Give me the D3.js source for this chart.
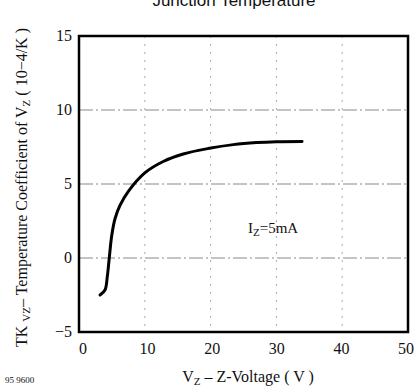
<!DOCTYPE html>
<html>
<head>
<meta charset="utf-8">
<script src="https://cdn.jsdelivr.net/npm/d3@7"></script>
<style>
  body { margin: 0; background: #fff; }
  svg text { font-family: "Liberation Serif", "Times New Roman", serif; fill: #111; }
</style>
</head>
<body>
<div id="chart"></div>
<script>
var w = 418;
var h = 388;

// Z-voltage (V) and temperature coefficient (10^-4/K)
var vz = [3.2, 3.95, 4.3, 4.6, 4.97, 5.47, 6.23, 7.5, 10.0, 12.8, 15.85, 19.8, 23.45, 27.0, 30.0, 33.9];
var tk = [-2.5, -2.16, -1.26, 0, 1.5, 2.65, 3.55, 4.5, 5.75, 6.52, 7.03, 7.41, 7.66, 7.8, 7.86, 7.88];

var xTicks = [0, 10, 20, 30, 40, 50];
var yTicks = [-5, 0, 5, 10, 15];
var xGrid = [10, 20, 30, 40];
var yGrid = [0, 5, 10];

var dataset = vz.map(function (v, i) { return { v: v, tk: tk[i] }; });

var svg = d3.select("#chart").append("svg").attr("width", w).attr("height", h);

var xScale = d3.scaleLinear().domain([0, 50]).range([79, 408]);
var yScale = d3.scaleLinear().domain([-5, 15]).range([332, 36]);

// grid
svg.selectAll(".hgrid").data(yGrid).enter().append("line")
    .attr("x1", xScale(0)).attr("x2", xScale(50))
    .attr("y1", function (d) { return yScale(d); })
    .attr("y2", function (d) { return yScale(d); })
    .attr("stroke", "#888").attr("stroke-width", 1)
    .attr("stroke-dasharray", "14,3,2,3");

svg.selectAll(".vgrid").data(xGrid).enter().append("line")
    .attr("x1", function (d) { return xScale(d); })
    .attr("x2", function (d) { return xScale(d); })
    .attr("y1", yScale(15)).attr("y2", yScale(-5))
    .attr("stroke", "#aaa").attr("stroke-width", 1)
    .attr("stroke-dasharray", "2,6");

// frame
svg.append("rect")
    .attr("x", xScale(0)).attr("y", yScale(15))
    .attr("width", xScale(50) - xScale(0))
    .attr("height", yScale(-5) - yScale(15))
    .attr("fill", "none").attr("stroke", "#000").attr("stroke-width", 2.5);

// tick labels
svg.selectAll(".xl").data(xTicks).enter().append("text")
    .attr("x", function (d) { return xScale(d) + 4 - d * 0.12; })
    .attr("y", 354)
    .attr("text-anchor", "middle")
    .style("font-size", "16px")
    .text(function (d) { return d; });

svg.selectAll(".yl").data(yTicks).enter().append("text")
    .attr("x", 72)
    .attr("y", function (d) { return yScale(d) + 5; })
    .attr("text-anchor", "end")
    .style("font-size", "16px")
    .text(function (d) { return d < 0 ? "\u2212" + (-d) : d; });

// curve
var line = d3.line()
    .x(function (d) { return xScale(d.v); })
    .y(function (d) { return yScale(d.tk); })
    .curve(d3.curveCatmullRom.alpha(0.5));

svg.append("path")
    .datum(dataset)
    .attr("d", line)
    .attr("fill", "none")
    .attr("stroke", "#000")
    .attr("stroke-width", 3)
    .attr("stroke-linecap", "round");

// annotation
var ann = svg.append("text").attr("x", 248).attr("y", 233).style("font-size", "15px");
ann.append("tspan").text("I");
ann.append("tspan").attr("dy", 3).style("font-size", "11px").text("Z");
ann.append("tspan").attr("dy", -3).text("=5mA");

// title (cut off at top, as in the source)
svg.append("text")
    .attr("x", 234).attr("y", 6)
    .attr("text-anchor", "middle")
    .style("font-family", "'Liberation Sans', Arial, sans-serif")
    .style("font-size", "17px")
    .text("Junction Temperature");

// x axis label
var xl = svg.append("text").attr("x", 248).attr("y", 382)
    .attr("text-anchor", "middle").style("font-size", "16px");
xl.append("tspan").text("V");
xl.append("tspan").attr("dy", 3).style("font-size", "11px").text("Z");
xl.append("tspan").attr("dy", -3).text(" \u2013 Z-Voltage ( V )");

// y axis label
var yl = svg.append("text")
    .attr("transform", "translate(27,347) rotate(-90)")
    .style("font-size", "16px");
yl.append("tspan").text("TK ");
yl.append("tspan").attr("dy", 3).style("font-size", "11px").text("VZ");
yl.append("tspan").attr("dy", -3).text("\u2013 Temperature Coefficient of V");
yl.append("tspan").attr("dy", 3).style("font-size", "11px").text("Z");
yl.append("tspan").attr("dy", -3).text(" ( 10\u22124/K )");

// figure number
svg.append("text").attr("x", 5).attr("y", 383)
    .style("font-size", "9px").text("95 9600");
</script>
</body>
</html>
